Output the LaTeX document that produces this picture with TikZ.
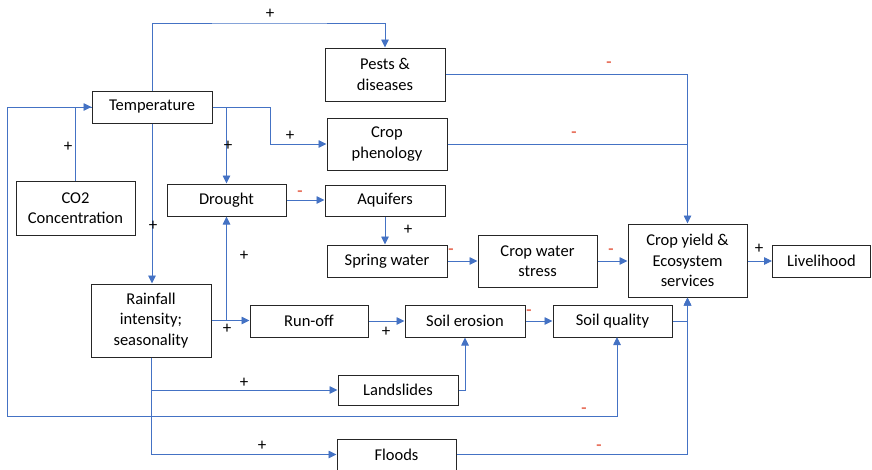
\documentclass[tikz,border=0pt]{standalone}
\usepackage{fontspec}
\setmainfont{Carlito}
\usetikzlibrary{arrows.meta}
\definecolor{link}{HTML}{4472C4}
\definecolor{neg}{HTML}{E8735F}
\begin{document}
\begin{tikzpicture}[x=1pt,y=-1pt,
  box/.style={draw=black!85, line width=1pt, align=center, inner sep=0pt,
    font=\fontsize{16.5}{20.5}\selectfont},
  arr/.style={draw=link, line width=0.9pt, -{Triangle[length=8pt,width=7.5pt]}},
  ln/.style={draw=link, line width=0.9pt},
  plussign/.style={font=\fontsize{17}{17}\selectfont, inner sep=0pt},
  minussign/.style={text=neg, font=\bfseries\fontsize{17}{17}\selectfont, inner sep=0pt}]
\useasboundingbox (0,0) rectangle (872,469);

% boxes
\node[box, minimum width=120pt, minimum height=32pt] (temp) at (152,107) {Temperature};
\node[box, minimum width=120pt, minimum height=53pt] (pests) at (385,74.5) {Pests \&\\diseases};
\node[box, minimum width=120pt, minimum height=52pt] (pheno) at (387,144) {Crop\\phenology};
\node[box, minimum width=119pt, minimum height=54pt] (co2) at (75.5,208) {CO2\\Concentration};
\node[box, minimum width=119pt, minimum height=32pt] (drought) at (226.5,200) {Drought};
\node[box, minimum width=120pt, minimum height=31pt] (aquif) at (385,200.5) {Aquifers};
\node[box, minimum width=120pt, minimum height=32pt] (spring) at (387,261) {Spring water};
\node[box, minimum width=119pt, minimum height=52pt] (cws) at (537.5,261) {Crop water\\stress};
\node[box, minimum width=119pt, minimum height=73pt] (yield) at (687.5,260.5) {Crop yield \&\\Ecosystem\\services};
\node[box, minimum width=98pt, minimum height=32pt] (liveli) at (821.5,261) {Livelihood};
\node[box, minimum width=120pt, minimum height=73pt] (rain) at (151,320.5) {Rainfall\\intensity;\\seasonality};
\node[box, minimum width=118pt, minimum height=32pt] (runoff) at (309,321) {Run-off};
\node[box, minimum width=120pt, minimum height=32pt] (erosion) at (465,321) {Soil erosion};
\node[box, minimum width=119pt, minimum height=32pt] (quality) at (612.5,321) {Soil quality};
\node[box, minimum width=120pt, minimum height=30pt] (lands) at (398,390) {Landslides};
\node[box, minimum width=119pt, minimum height=31pt] (floods) at (396.5,454.5) {Floods};

% temperature links
\draw[arr] (temp.north) |- (270,23) -| (pests.north);
\draw[arr] (co2.north) |- (temp.west);
\draw[arr] (temp.west) -| (7,416) -- (617,416) -- (617,337);
\draw[arr] (temp.east) -| (drought.north);
\draw[arr] (temp.east) -- (270,107) |- (pheno.west);
\draw[arr] (temp.south) -- (temp.south |- rain.north);

% water chain
\draw[arr] (drought.east) -- (drought.east -| aquif.west);
\draw[arr] (aquif.south) -- (aquif.south |- spring.north);
\draw[arr] (spring.east) -- (cws.west);
\draw[arr] (cws.east) -- (cws.east -| yield.west);
\draw[arr] (yield.east |- liveli.west) -- (liveli.west);

% into crop yield from above
\draw[arr] (pests.east) -| (yield.north);
\draw[ln] (pheno.east) -- (pheno.east -| yield.north);

% rainfall links
\draw[arr] (rain.east) -- (rain.east -| runoff.west);
\draw[arr] (rain.east -| drought.south) -- (drought.south);
\draw[arr] (runoff.east) -- (erosion.west);
\draw[arr] (erosion.east) -- (quality.west);
\draw[arr] (quality.east) -| (yield.south);
\draw[arr] (rain.south) |- (lands.west);
\draw[arr] (rain.south) |- (floods.west);
\draw[arr] (lands.east) -| (erosion.south);
\draw[arr] (floods.east) -| (yield.south);

% signs
\node[plussign] (p1) at (270,14) {+};
\node[plussign] (p2) at (68,147) {+};
\node[plussign] (p3) at (153,226) {+};
\node[plussign] (p4) at (228,146) {+};
\node[plussign] (p5) at (290,136) {+};
\node[plussign] (p6) at (244,256) {+};
\node[plussign] (p7) at (408,230) {+};
\node[plussign] (p8) at (759,249) {+};
\node[plussign] (p9) at (227,329) {+};
\node[plussign] (p10) at (386,332) {+};
\node[plussign] (p11) at (244,383) {+};
\node[plussign] (p12) at (262,446) {+};

\node[minussign] (n1) at (300,194) {-};
\node[minussign] (n2) at (451,252) {-};
\node[minussign] (n3) at (611,252) {-};
\node[minussign] (n4) at (609,65) {-};
\node[minussign] (n5) at (574,135) {-};
\node[minussign] (n6) at (529,313) {-};
\node[minussign] (n7) at (584,411) {-};
\node[minussign] (n8) at (599,448) {-};
\end{tikzpicture}
\end{document}
